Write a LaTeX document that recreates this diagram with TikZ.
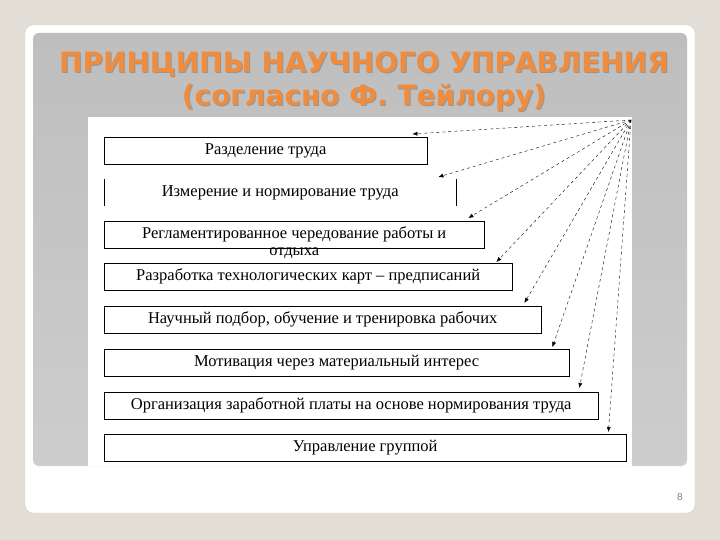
\documentclass[tikz,border=0pt]{standalone}
\usepackage{fontspec}
\setmainfont{Liberation Serif}
\newfontfamily\titlefont{DejaVu Sans}
\newfontfamily\numfont{Liberation Sans}
\usetikzlibrary{arrows.meta, positioning, shadows}
\definecolor{pagebg}{RGB}{228,223,214}
\definecolor{panelgray}{RGB}{205,205,205}
\definecolor{paneltop}{RGB}{190,190,190}
\definecolor{titleorange}{RGB}{240,140,62}
\definecolor{titleshadow}{RGB}{150,150,150}

\begin{document}
\begin{tikzpicture}[
    x=1pt, y=-1pt,
    every node/.style={font=\fontsize{16.5}{17}\selectfont},
    box/.style={rectangle, draw, thin, minimum height=27pt, anchor=north west, inner sep=0pt},
    sidebox/.style={rectangle, minimum height=27pt, anchor=north west, inner sep=0pt},
    title/.style={font=\titlefont\bfseries\fontsize{28}{33}\selectfont, align=center},
    arrow/.style={-{Latex[length=5pt, width=4pt]}, dashed, thin}
]
    \useasboundingbox (0,0) rectangle (720,540);
    % slide background
    \fill[pagebg] (0,0) rectangle (720,540);
    \fill[white, rounded corners=8pt] (25,25) rectangle (695,513);
    \draw[gray!40, rounded corners=8pt] (25,25) rectangle (695,513);
    \shade[top color=paneltop, bottom color=panelgray, rounded corners=6pt] (33,33) rectangle (687,466);
    \fill[white] (88,117) rectangle (632,466);

    % title
    \node[title, text=titleshadow] at (365,83) {ПРИНЦИПЫ НАУЧНОГО УПРАВЛЕНИЯ\\(согласно Ф. Тейлору)};
    \node[title, text=titleorange] (ttl) at (364,82) {ПРИНЦИПЫ НАУЧНОГО УПРАВЛЕНИЯ\\(согласно Ф. Тейлору)};

    % principles
    \node[box, minimum width=323pt] (b1) at (104,137) {Разделение труда};
    \node[sidebox, minimum width=352pt] (b2) at (104,179) {Измерение и нормирование труда};
    \draw (b2.north west) -- (b2.south west);
    \draw (b2.north east) -- (b2.south east);
    \node[box, minimum width=380pt] (b3) at (104,221) {};
    \node[anchor=north, align=center, inner sep=0pt, font=\fontsize{16.5}{17}\selectfont] (t3) at ([yshift=-5pt]b3.north)
        {Регламентированное чередование работы и\\отдыха};
    \node[box, minimum width=408pt] (b4) at (104,263) {Разработка технологических карт – предписаний};
    \node[box, minimum width=437pt] (b5) at (104,306) {Научный подбор, обучение и тренировка рабочих};
    \node[box, minimum width=465pt] (b6) at (104,349) {Мотивация через материальный интерес};
    \node[box, minimum width=494pt] (b7) at (104,392) {Организация заработной платы на основе нормирования труда};
    \node[box, minimum width=522pt] (b8) at (104,434) {Управление группой};

    % arrows from the corner
    \coordinate (src) at (631,120);
    \draw[arrow] (src) -- ([xshift=-15pt, yshift=3pt]b1.north east);
    \draw[arrow] (src) -- ([xshift=-18pt, yshift=2pt]b2.north east);
    \draw[arrow] (src) -- ([xshift=-16pt, yshift=3pt]b3.north east);
    \draw[arrow] (src) -- ([xshift=-16pt, yshift=1pt]b4.north east);
    \draw[arrow] (src) -- ([xshift=-17pt, yshift=3pt]b5.north east);
    \draw[arrow] (src) -- ([xshift=-17pt, yshift=2pt]b6.north east);
    \draw[arrow] (src) -- ([xshift=-19pt, yshift=4pt]b7.north east);
    \draw[arrow] (src) -- ([xshift=-18pt, yshift=2pt]b8.north east);

    \node[font=\numfont\fontsize{10}{11}\selectfont, text=gray] (pg) at (680,497) {8};
\end{tikzpicture}
\end{document}
